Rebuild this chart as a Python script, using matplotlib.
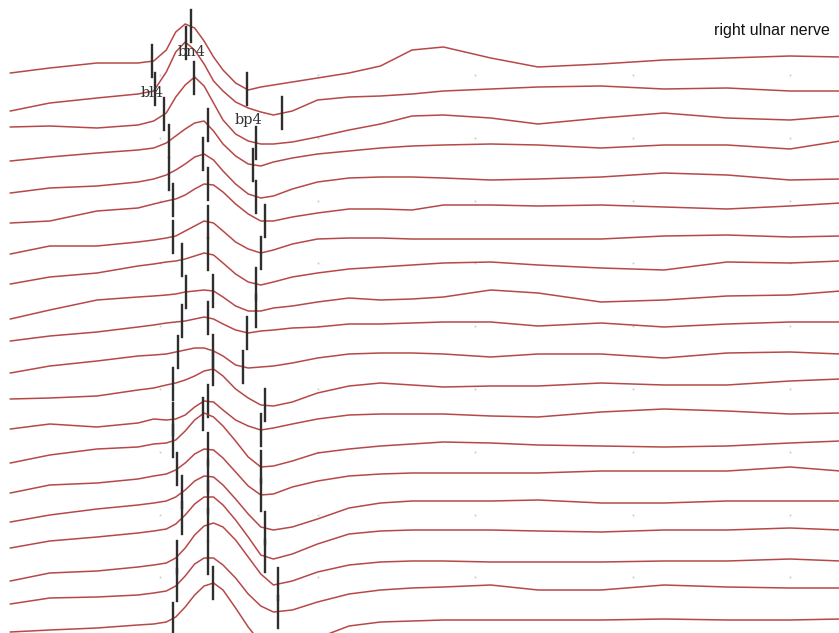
import matplotlib
matplotlib.use("Agg")
import matplotlib.pyplot as plt
import numpy as np

# sample times of every sweep (ms after stimulus)
T_MS = [0.25, 1.5, 3.0, 4.3, 4.8, 5.2, 5.5, 5.8, 6.1, 6.4, 6.7, 7.0, 7.4, 7.8,
        8.2, 8.6, 9.2, 10, 11, 12, 13, 14, 15.5, 17, 19, 21, 23, 25, 26.6]

# 20 consecutive sweeps, amplitude in uV (up = positive), relative to first sample
SWEEPS = [
    [0, 5, 10, 10, 12, 23, 41, 49, 45, 32, 16, 3, -10, -17, -14, -12, -9, -5, 0, 7, 23, 26, 15, 6, 9, 13, 15, 17, 16],
    [0, 8, 13, 17, 20, 39, 59, 69, 61, 47, 30, 20, 9, 3, -1, -4, 0, 11, 14, 15, 17, 20, 22, 24, 25, 22, 23, 20, 20],
    [0, 1, -1, 2, 6, 14, 30, 42, 50, 41, 24, 7, -7, -14, -17, -17, -15, -10, -3, 3, 11, 12, 9, 3, 9, 14, 9, 7, 11],
    [0, 4, 8, 11, 13, 18, 25, 32, 38, 40, 30, 17, 5, -3, -5, -1, 3, 7, 10, 13, 15, 16, 17, 16, 13, 16, 16, 12, 20],
    [0, 5, 7, 11, 14, 18, 23, 29, 36, 39, 33, 22, 9, -1, -5, -3, 4, 11, 15, 16, 16, 15, 13, 14, 16, 20, 18, 13, 14],
    [0, 2, 12, 15, 19, 22, 24, 28, 34, 39, 38, 31, 19, 9, 2, 2, 6, 10, 14, 14, 13, 18, 18, 17, 18, 16, 14, 17, 20],
    [0, 8, 8, 12, 14, 16, 18, 23, 28, 33, 31, 23, 12, 5, 1, 4, 10, 15, 16, 16, 15, 15, 15, 15, 15, 18, 19, 17, 18],
    [0, 7, 11, 18, 20, 22, 23, 25, 28, 31, 29, 21, 10, 2, -1, 2, 7, 11, 15, 17, 19, 21, 22, 19, 16, 14, 22, 21, 23],
    [0, 9, 19, 22, 23, 24, 25, 27, 28, 29, 28, 22, 13, 8, 8, 11, 13, 17, 21, 19, 20, 22, 29, 26, 17, 19, 23, 24, 28],
    [0, 5, 9, 14, 16, 18, 19, 20, 22, 24, 22, 17, 11, 8, 10, 11, 13, 14, 17, 17, 18, 19, 19, 15, 18, 14, 17, 19, 19],
    [0, 7, 12, 17, 18, 19, 21, 23, 25, 25, 22, 17, 8, 5, 6, 7, 10, 15, 19, 20, 20, 19, 16, 19, 19, 15, 20, 21, 19],
    [0, 1, 3, 9, 11, 14, 16, 19, 23, 28, 30, 23, 10, 1, -6, -7, -3, 6, 13, 16, 14, 12, 13, 13, 16, 14, 14, 18, 20],
    [0, 5, 2, 6, 10, 9, 10, 14, 22, 28, 27, 19, 9, 3, -1, 1, 5, 10, 14, 15, 15, 15, 13, 12, 17, 20, 18, 15, 16],
    [0, 8, 14, 16, 19, 20, 23, 32, 43, 50, 46, 37, 22, 6, -4, -3, 2, 10, 14, 17, 19, 21, 20, 18, 17, 16, 17, 20, 22],
    [0, 8, 10, 14, 17, 19, 23, 30, 39, 44, 43, 35, 21, 7, -2, -1, 6, 12, 17, 19, 20, 20, 20, 20, 22, 22, 22, 26, 22],
    [0, 7, 13, 17, 19, 21, 25, 32, 41, 46, 45, 37, 23, 8, -5, -8, -5, 3, 14, 19, 21, 21, 21, 22, 19, 19, 21, 21, 21],
    [0, 7, 11, 15, 17, 19, 24, 33, 44, 51, 51, 43, 28, 11, -7, -11, -6, 4, 14, 17, 18, 18, 18, 17, 16, 18, 18, 20, 18],
    [0, 8, 10, 14, 16, 18, 23, 33, 46, 55, 58, 54, 41, 24, 7, -4, 0, 9, 16, 19, 20, 20, 19, 19, 19, 20, 20, 22, 20],
    [0, 6, 7, 9, 11, 13, 18, 28, 40, 46, 46, 39, 26, 10, -2, -8, -6, 2, 10, 14, 16, 17, 19, 14, 14, 19, 17, 16, 16],
    [0, 2, 4, 7, 8, 10, 15, 25, 37, 46, 49, 42, 24, 5, -11, -20, -18, -6, 6, 10, 11, 12, 12, 12, 12, 13, 12, 12, 13],
]

# dc level of each sweep start (uV)
DC_UV = [0, -8.5, 5, 0.5, -2, -2.5, -4, -4.5, -10, -2.5, -5, -1.5, -2, -6.5, -7, -6.5, -3, -6.5, 0, 1.5]

# cursor latencies per sweep (ms)
ONSET_MS = [4.75, 4.84, 5.13, 5.29, 5.29, 5.41, 5.41, 5.70, 5.83, 5.70,
            5.57, 5.41, 5.41, 5.41, 5.54, 5.70, 5.70, 5.54, 5.54, 5.41]
PEAK_MS = [5.98, 5.83, 6.08, 6.52, 6.37, 6.52, 6.52, 6.52, 6.68, 6.52,
           6.68, 6.68, 6.52, 6.37, 6.52, 6.52, 6.52, 6.52, 6.52, 6.68]
TROUGH_MS = [7.76, 8.87, 8.05, 7.95, 8.05, 8.33, 8.21, 8.05, 8.05, 7.76,
             7.63, 8.33, 8.21, 8.21, 8.21, 8.33, 8.33, 8.75, 8.75, 9.13]

FIRST_OFFSET = 73
SPACING = 29.5
CURSOR_HALF = 16

fig = plt.figure(figsize=(8.39, 6.33), dpi=100)
ax = fig.add_axes([0, 0, 1, 1])
ax.set_xlim(-2.5 / 31.5, 836.5 / 31.5)
ax.set_ylim(-633, 0)
ax.axis('off')

# faint division dots (5 ms per division)
for gx in np.arange(5, 26, 5):
    for k in range(9):
        ax.plot(gx, -75 - 62.8 * k, marker='s', ms=1.2, color='#c8c8c8', mec='none')

t = np.array(T_MS)
for i, sweep in enumerate(SWEEPS):
    y = -(FIRST_OFFSET + i * SPACING) + DC_UV[i] + np.array(sweep)
    ax.plot(t, y, color='#b03434', lw=1.1, alpha=0.9, solid_joinstyle='round')
    for c in (ONSET_MS[i], PEAK_MS[i], TROUGH_MS[i]):
        yc = np.interp(c, t, y)
        ax.plot([c, c], [yc - CURSOR_HALF, yc + CURSOR_HALF], color='#2e2e2e', lw=1.7)

lab = dict(family='DejaVu Serif', fontsize=10.5, color='#333333', ha='center', va='center')
ax.text(150 / 31.5, -93, 'bl4', **lab)
ax.text(189 / 31.5, -52, 'bn4', **lab)
ax.text(246 / 31.5, -120, 'bp4', **lab)

ax.text(714 / 839, 1 - 30 / 633, 'right ulnar nerve', transform=ax.transAxes,
        family='Liberation Sans', fontsize=11.5, color='#111111', ha='left', va='center')

fig.savefig('out.png', dpi=100)
